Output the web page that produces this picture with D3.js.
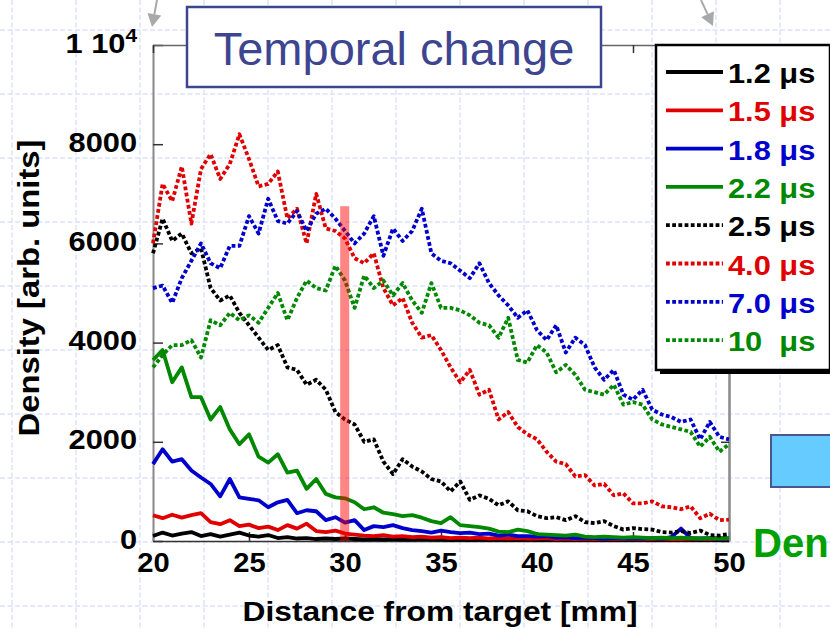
<!DOCTYPE html>
<html>
<head>
<meta charset="utf-8">
<script src="https://cdn.jsdelivr.net/npm/d3@7"></script>
<style>
  body { margin: 0; background: #fff; }
  svg { display: block; }
  text { font-family: "Liberation Sans", Arial, Helvetica, sans-serif; }
</style>
</head>
<body>
<svg id="chart" width="830" height="629"></svg>
<script>
// Distance from target [mm] at which each density profile is sampled
const distances = [
  20, 20.5, 21, 21.5, 22, 22.5, 23, 23.5, 24, 24.5,
  25, 25.5, 26, 26.5, 27, 27.5, 28, 28.5, 29, 29.5,
  30, 30.5, 31, 31.5, 32, 32.5, 33, 33.5, 34, 34.5,
  35, 35.5, 36, 36.5, 37, 37.5, 38, 38.5, 39, 39.5,
  40, 40.5, 41, 41.5, 42, 42.5, 43, 43.5, 44, 44.5,
  45, 45.5, 46, 46.5, 47, 47.5, 48, 48.5, 49, 49.5,
  50
];

// Density [arb. units] for each delay time
const density_1_2us = [
  100, 170, 110, 150, 180, 100, 140, 90, 130, 170,
  110, 90, 120, 60, 80, 50, 60, 40, 50, 40,
  50, 40, 30, 40, 30, 40, 30, 30, 40, 30,
  30, 20, 30, 20, 30, 20, 30, 20, 20, 30,
  20, 20, 30, 20, 20, 20, 30, 20, 20, 20,
  20, 30, 20, 20, 20, 20, 30, 20, 20, 20,
  20
];
const density_1_5us = [
  520, 460, 530, 470, 520, 560, 380, 340, 420, 300,
  330, 260, 290, 220, 320, 250, 350, 200, 180, 210,
  150, 130, 110, 100, 120, 90, 100, 80, 90, 70,
  80, 60, 70, 60, 70, 50, 60, 50, 60, 50,
  50, 60, 40, 50, 40, 50, 40, 50, 40, 40,
  50, 40, 40, 50, 40, 40, 50, 40, 40, 50,
  40
];
const density_1_8us = [
  1550, 1850, 1600, 1650, 1420, 1280, 1150, 900, 1250, 880,
  850, 820, 680, 780, 830, 560, 620, 600, 420, 480,
  370, 420, 220, 300, 280, 320, 260, 220, 200, 170,
  210, 180, 160, 170, 140, 150, 110, 130, 100, 100,
  90, 100, 70, 80, 60, 70, 60, 50, 60, 50,
  60, 50, 60, 50, 80, 250, 60, 50, 60, 50,
  50
];
const density_2_2us = [
  3650, 3850, 3200, 3500, 2900, 2900, 2450, 2700, 2250, 1950,
  2150, 1700, 1580, 1750, 1380, 1420, 1050, 1250, 950, 880,
  860, 780, 640, 680, 570, 540, 500, 520, 470, 400,
  360, 480, 320, 300, 280, 250, 190, 180, 230, 200,
  140, 130, 120, 110, 130, 90, 80, 90, 80, 70,
  80, 70, 60, 70, 60, 70, 60, 50, 60, 50,
  60
];
const density_2_5us = [
  5800, 6500, 6050, 6200, 5800, 5900, 5100, 4850, 4950, 4600,
  4350, 4100, 3850, 3950, 3500, 3450, 3150, 3250, 3050, 2600,
  2450, 2350, 2000, 2050, 1600, 1350, 1650, 1500, 1400, 1250,
  1200, 1000, 1200, 830, 920, 850, 720, 800, 620, 600,
  500, 460, 480, 420, 500, 380, 360, 400, 300, 230,
  260, 240, 230, 180, 170, 200, 160, 210, 120, 110,
  140
];
const density_4_0us = [
  6000, 7200, 6850, 7550, 6400, 7500, 7800, 7300, 7600, 8200,
  7700, 7150, 7200, 7450, 6500, 6700, 6000, 7000, 6300, 6250,
  6100, 5700, 5600, 5800, 5100, 4750, 4900, 4400, 4100, 4150,
  3850, 3500, 3200, 3450, 2950, 3050, 2450, 2600, 2300, 2150,
  2050, 1800, 1600, 1550, 1300, 1330, 1120, 1150, 920, 960,
  760, 760, 800, 700, 680, 640, 700, 460, 550, 420,
  430
];
const density_7_0us = [
  5100, 5150, 4800, 5300, 5650, 6000, 5600, 5500, 5950, 5950,
  6550, 6200, 6900, 6450, 6400, 6650, 6250, 6600, 6700, 6500,
  6250, 6000, 6200, 6550, 5750, 6300, 6050, 6250, 6700, 5800,
  5650, 5600, 5450, 5300, 5600, 5200, 4950, 4750, 4500, 4650,
  4250, 4050, 4350, 3800, 4100, 3950, 3500, 3250, 3450, 2950,
  2850, 3050, 2650, 2550, 2500, 2400, 2450, 2050, 2400, 2100,
  2050
];
const density_10us = [
  3500, 3750, 3950, 3950, 4050, 3700, 4450, 4350, 4600, 4450,
  4550, 4400, 4700, 5000, 4450, 4900, 5250, 5100, 5050, 5550,
  5250, 4700, 5350, 5100, 5250, 4950, 5200, 4850, 4600, 5200,
  4700, 4700, 4650, 4550, 4400, 4350, 4100, 4500, 3650, 3600,
  3950, 3800, 3400, 3550, 3350, 3050, 3000, 2950, 3150, 2750,
  2800, 2750, 2450, 2350, 2300, 2250, 2200, 1900, 2100, 1800,
  1950
];

const seriesLabels = ["1.2 μs", "1.5 μs", "1.8 μs", "2.2 μs", "2.5 μs", "4.0 μs", "7.0 μs", "10  μs"];
const seriesValues = [density_1_2us, density_1_5us, density_1_8us, density_2_2us,
                      density_2_5us, density_4_0us, density_7_0us, density_10us];
const seriesColors = ["#000000", "#e00000", "#0000cc", "#008800",
                      "#000000", "#e00000", "#0000cc", "#008800"];
const seriesDotted = [false, false, false, false, true, true, true, true];

const xTicks = [20, 25, 30, 35, 40, 45, 50];
const yTicks = [0, 2000, 4000, 6000, 8000, 10000];

// Highlighted observation position (around 30 mm)
const bandRange = [29.75, 30.22];
const bandTop = 6750;

const titleText = "Temporal change";
const xTitle = "Distance from target [mm]";
const yTitle = "Density [arb. units]";

// ---------------------------------------------------------------
const svg = d3.select("#chart");
const W = 830, H = 629;
const plot = { left: 153, right: 729, top: 45, bottom: 541 };

const x = d3.scaleLinear().domain([20, 50]).range([plot.left, plot.right]);
const y = d3.scaleLinear().domain([0, 10000]).range([plot.bottom, plot.top]);

// slide background: light dashed grid
const bg = svg.append("g");
bg.append("rect").attr("width", W).attr("height", H).attr("fill", "#ffffff");
for (let gx = 12; gx < W; gx += 64) {
  bg.append("line").attr("x1", gx).attr("x2", gx).attr("y1", 0).attr("y2", H)
    .attr("stroke", "#dbe4fb").attr("stroke-width", 1.5).attr("stroke-dasharray", "5,2.5");
}
for (let gy = 30; gy < H; gy += 64) {
  bg.append("line").attr("y1", gy).attr("y2", gy).attr("x1", 0).attr("x2", W)
    .attr("stroke", "#dbe4fb").attr("stroke-width", 1.5).attr("stroke-dasharray", "5,2.5");
}

// grey pointer arrows at the top edge
function arrow(x0, y0, x1, y1) {
  const dx = x1 - x0, dy = y1 - y0, len = Math.hypot(dx, dy);
  const ux = dx / len, uy = dy / len, head = 13, half = 7;
  const bx = x1 - ux * head, by = y1 - uy * head;
  svg.append("line").attr("x1", x0).attr("y1", y0).attr("x2", bx).attr("y2", by)
    .attr("stroke", "#a9a9a9").attr("stroke-width", 2);
  svg.append("polygon")
    .attr("points", [[x1, y1], [bx - uy * half, by + ux * half], [bx + uy * half, by - ux * half]].map(p => p.join(",")).join(" "))
    .attr("fill", "#a9a9a9");
}
arrow(157, 0, 152, 27);
arrow(701, 0, 713, 26);

// axes
const axisG = svg.append("g");
const bottomAxis = axisG.append("g").attr("transform", `translate(0,${plot.bottom})`)
  .call(d3.axisBottom(x).tickValues(xTicks).tickSizeInner(-9).tickSizeOuter(0).tickPadding(12).tickFormat(d3.format("d")));
const leftAxis = axisG.append("g").attr("transform", `translate(${plot.left},0)`)
  .call(d3.axisLeft(y).tickValues(yTicks).tickSizeInner(-10).tickSizeOuter(0).tickPadding(14.5).tickFormat(d3.format("d")));
const topAxis = axisG.append("g").attr("transform", `translate(0,${plot.top})`)
  .call(d3.axisTop(x).tickValues(xTicks).tickSizeInner(-8).tickSizeOuter(0).tickFormat(""));
const rightAxis = axisG.append("g").attr("transform", `translate(${plot.right},0)`)
  .call(d3.axisRight(y).tickValues(yTicks).tickSizeInner(-8).tickSizeOuter(0).tickFormat(""));

bottomAxis.select(".domain").attr("stroke", "#333").attr("stroke-width", 1.5);
leftAxis.select(".domain").attr("stroke", "#888").attr("stroke-width", 2);
topAxis.select(".domain").attr("stroke", "#666").attr("stroke-width", 1.5);
rightAxis.select(".domain").attr("stroke", "#888").attr("stroke-width", 2.5);
axisG.selectAll(".tick line").attr("stroke", "#333").attr("stroke-width", 1.5);

bottomAxis.selectAll("text")
  .attr("fill", "#000").attr("font-size", "27px").attr("font-weight", "bold")
  .attr("font-family", "'Liberation Sans', Arial, sans-serif")
  .attr("transform", "scale(1.08,1)");
leftAxis.selectAll("text")
  .attr("fill", "#000").attr("font-size", "28px").attr("font-weight", "bold")
  .attr("font-family", "'Liberation Sans', Arial, sans-serif")
  .attr("dy", "0.25em")
  .attr("transform", "scale(1.1,1)");
leftAxis.selectAll(".tick text").filter(d => d === 10000)
  .text("1 10")
  .append("tspan").attr("dy", "-0.55em").attr("font-size", "19px").text("4");

// density profiles
const line = d3.line().x((d, i) => x(distances[i])).y(d => y(d));
const curves = svg.append("g");
seriesValues.forEach((vals, k) => {
  curves.append("path")
    .datum(vals)
    .attr("d", line)
    .attr("fill", "none")
    .attr("stroke", seriesColors[k])
    .attr("stroke-width", 3.8)
    .attr("stroke-linejoin", "round")
    .attr("stroke-dasharray", seriesDotted[k] ? "3.8,2.4" : null);
});

// highlighted band at 30 mm
svg.append("rect")
  .attr("x", x(bandRange[0])).attr("width", x(bandRange[1]) - x(bandRange[0]))
  .attr("y", y(bandTop)).attr("height", y(0) - y(bandTop))
  .attr("fill", "rgba(255,0,0,0.48)");

// title box
const tb = { x: 187, y: 7, w: 414, h: 80 };
svg.append("rect").attr("x", tb.x).attr("y", tb.y).attr("width", tb.w).attr("height", tb.h)
  .attr("fill", "#fff").attr("stroke", "#3d4590").attr("stroke-width", 2.5);
svg.append("text").attr("x", tb.x + tb.w / 2).attr("y", 65)
  .attr("text-anchor", "middle").attr("font-size", "47px").attr("fill", "#3d4590")
  .text(titleText);

// axis titles
svg.append("text").attr("x", 440).attr("y", 621)
  .attr("text-anchor", "middle").attr("font-size", "28px").attr("font-weight", "bold")
  .attr("textLength", 395).attr("lengthAdjust", "spacingAndGlyphs")
  .text(xTitle);
svg.append("text").attr("transform", "translate(39,288) rotate(-90)")
  .attr("text-anchor", "middle").attr("font-size", "29px").attr("font-weight", "bold")
  .attr("textLength", 297).attr("lengthAdjust", "spacingAndGlyphs")
  .text(yTitle);

// legend
const lg = { x: 656, y: 45, w: 174, h: 325 };
svg.append("rect").attr("x", lg.x + 4).attr("y", lg.y + 4).attr("width", lg.w).attr("height", lg.h)
  .attr("fill", "#000");
svg.append("rect").attr("x", lg.x).attr("y", lg.y).attr("width", lg.w).attr("height", lg.h)
  .attr("fill", "#fff").attr("stroke", "#000").attr("stroke-width", 2.5);
seriesLabels.forEach((lab, k) => {
  const ry = 72 + k * 38.3;
  svg.append("line").attr("x1", 666).attr("x2", 723).attr("y1", ry).attr("y2", ry)
    .attr("stroke", seriesColors[k]).attr("stroke-width", 3.8)
    .attr("stroke-dasharray", seriesDotted[k] ? "3.8,2.4" : null);
  svg.append("text")
    .attr("transform", `translate(728,${ry + 11}) scale(1.1,1)`)
    .attr("font-size", "28px").attr("font-weight", "bold")
    .attr("fill", seriesColors[k]).style("white-space", "pre")
    .text(lab);
});

// neighbouring slide elements on the right
svg.append("rect").attr("x", 771).attr("y", 435).attr("width", 70).attr("height", 52)
  .attr("fill", "#66ccff").attr("stroke", "#4b5592").attr("stroke-width", 2);
svg.append("text").attr("x", 753).attr("y", 557)
  .attr("font-size", "40px").attr("font-weight", "bold").attr("fill", "#00a000")
  .text("Den");
</script>
</body>
</html>
